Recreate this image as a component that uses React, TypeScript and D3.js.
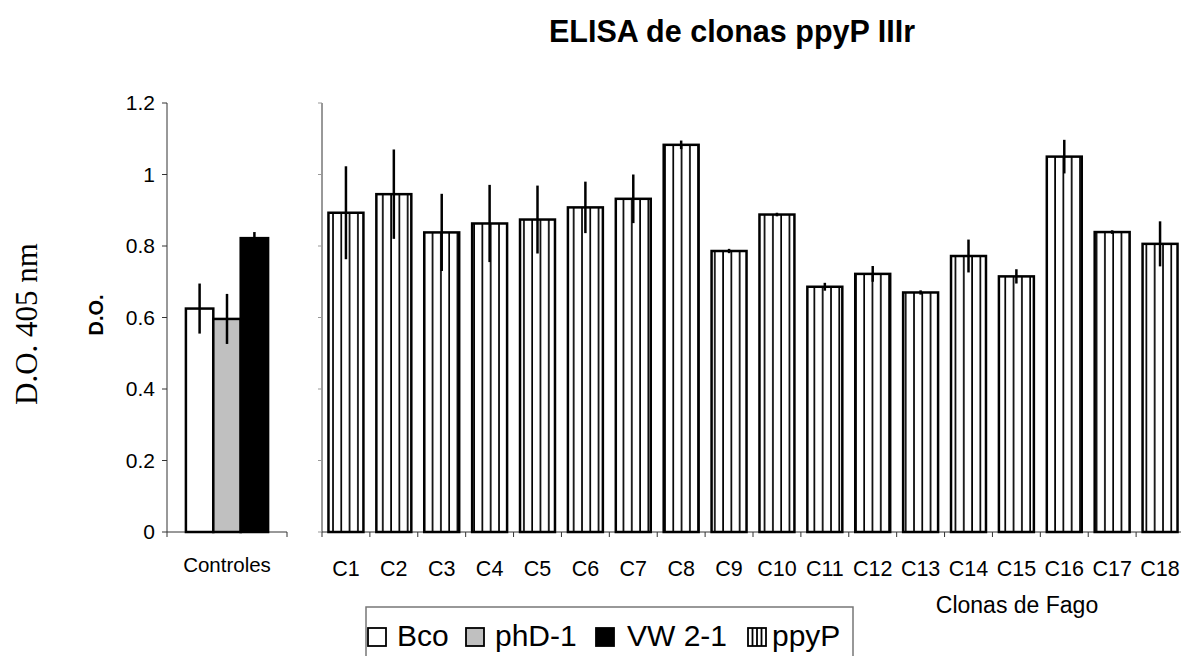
import React, { useRef, useEffect } from 'react';
import * as d3 from 'd3';

const clones = ['C1', 'C2', 'C3', 'C4', 'C5', 'C6', 'C7', 'C8', 'C9', 'C10', 'C11', 'C12', 'C13', 'C14', 'C15', 'C16', 'C17', 'C18'];
const cloneMeans = [0.893, 0.945, 0.838, 0.863, 0.874, 0.908, 0.932, 1.083, 0.786, 0.888, 0.686, 0.722, 0.670, 0.772, 0.715, 1.050, 0.839, 0.806];
const cloneErrors = [0.13, 0.125, 0.108, 0.108, 0.095, 0.072, 0.068, 0.012, 0.006, 0.005, 0.011, 0.022, 0.006, 0.046, 0.02, 0.047, 0.005, 0.063];

const controls = ['Bco', 'phD-1', 'VW 2-1'];
const controlMeans = [0.625, 0.596, 0.822];
const controlErrors = [0.07, 0.07, 0.017];
const controlColors = ['#ffffff', '#c0c0c0', '#000000'];

const yTicks = [0, 0.2, 0.4, 0.6, 0.8, 1, 1.2];

const App = () => {
  const svgRef = useRef(null);
  const width = 1181;
  const height = 656;

  useEffect(() => {
    const svg = d3.select(svgRef.current);
    svg.selectAll('*').remove();
    const font = 'Liberation Sans, Arial, sans-serif';

    // stripes for the clone bars
    const defs = svg.append('defs');
    const pat = defs.append('pattern')
      .attr('id', 'vstripe')
      .attr('patternUnits', 'userSpaceOnUse')
      .attr('width', 8.3)
      .attr('height', 10);
    pat.append('rect').attr('width', 8.3).attr('height', 10).attr('fill', '#fff');
    pat.append('line')
      .attr('x1', 1).attr('x2', 1).attr('y1', 0).attr('y2', 10)
      .attr('stroke', '#000').attr('stroke-width', 1.7);

    const y = d3.scaleLinear().domain([0, 1.2]).range([532, 103]);

    // ---- controls panel ----
    const xc = d3.scaleBand().domain(['Controles']).range([167, 287]).paddingOuter(0.23);
    const xcInner = d3.scaleBand().domain(controls).range([0, xc.bandwidth()]);

    svg.append('line')
      .attr('x1', 167).attr('x2', 167).attr('y1', y(1.2)).attr('y2', y(0))
      .attr('stroke', '#333');
    svg.append('line')
      .attr('x1', 167).attr('x2', 287).attr('y1', y(0)).attr('y2', y(0))
      .attr('stroke', '#333');
    [167, 287].forEach(t => {
      svg.append('line').attr('x1', t).attr('x2', t).attr('y1', y(0)).attr('y2', y(0) + 5).attr('stroke', '#333');
    });

    svg.selectAll('.ytick')
      .data(yTicks)
      .enter()
      .append('line')
      .attr('x1', 162).attr('x2', 167)
      .attr('y1', d => y(d)).attr('y2', d => y(d))
      .attr('stroke', '#333');

    svg.selectAll('.ylab')
      .data(yTicks)
      .enter()
      .append('text')
      .attr('x', 155)
      .attr('y', d => y(d) + 7)
      .attr('text-anchor', 'end')
      .attr('font-family', font)
      .attr('font-size', 21)
      .text(d => String(d));

    const cx0 = xc('Controles');
    svg.selectAll('.cbar')
      .data(controls)
      .enter()
      .append('rect')
      .attr('x', d => cx0 + xcInner(d))
      .attr('y', (d, i) => y(controlMeans[i]))
      .attr('width', xcInner.bandwidth())
      .attr('height', (d, i) => y(0) - y(controlMeans[i]))
      .attr('fill', (d, i) => controlColors[i])
      .attr('stroke', '#000')
      .attr('stroke-width', 2.5);

    svg.selectAll('.cerr')
      .data(controls)
      .enter()
      .append('line')
      .attr('x1', d => cx0 + xcInner(d) + xcInner.bandwidth() / 2)
      .attr('x2', d => cx0 + xcInner(d) + xcInner.bandwidth() / 2)
      .attr('y1', (d, i) => y(controlMeans[i] + controlErrors[i]))
      .attr('y2', (d, i) => y(controlMeans[i] - controlErrors[i]))
      .attr('stroke', '#000')
      .attr('stroke-width', 2.5);

    svg.append('text')
      .attr('x', xc('Controles') + xc.bandwidth() / 2)
      .attr('y', 572)
      .attr('text-anchor', 'middle')
      .attr('font-family', font)
      .attr('font-size', 20.5)
      .text('Controles');

    // ---- clones panel ----
    const x = d3.scaleBand()
      .domain(clones)
      .range([322, 1184])
      .paddingInner(0.27)
      .paddingOuter(0.135);
    const step = x.step();

    svg.append('line')
      .attr('x1', 322).attr('x2', 322).attr('y1', y(1.2)).attr('y2', y(0))
      .attr('stroke', '#333');
    svg.append('line')
      .attr('x1', 322).attr('x2', 1184).attr('y1', y(0)).attr('y2', y(0))
      .attr('stroke', '#333');
    svg.selectAll('.ytick2')
      .data(yTicks)
      .enter()
      .append('line')
      .attr('x1', 318).attr('x2', 322)
      .attr('y1', d => y(d)).attr('y2', d => y(d))
      .attr('stroke', '#999');
    svg.selectAll('.xtick')
      .data(d3.range(clones.length + 1))
      .enter()
      .append('line')
      .attr('x1', i => 322 + i * step).attr('x2', i => 322 + i * step)
      .attr('y1', y(0)).attr('y2', y(0) + 5)
      .attr('stroke', '#333');

    svg.selectAll('.bar')
      .data(cloneMeans)
      .enter()
      .append('rect')
      .attr('x', (d, i) => x(clones[i]))
      .attr('y', d => y(d))
      .attr('width', x.bandwidth())
      .attr('height', d => y(0) - y(d))
      .attr('fill', 'url(#vstripe)')
      .attr('stroke', '#000')
      .attr('stroke-width', 2.5);

    svg.selectAll('.err')
      .data(cloneMeans)
      .enter()
      .append('line')
      .attr('x1', (d, i) => x(clones[i]) + x.bandwidth() / 2)
      .attr('x2', (d, i) => x(clones[i]) + x.bandwidth() / 2)
      .attr('y1', (d, i) => y(d + cloneErrors[i]))
      .attr('y2', (d, i) => y(d - cloneErrors[i]))
      .attr('stroke', '#000')
      .attr('stroke-width', 2.5);

    svg.selectAll('.xlab')
      .data(clones)
      .enter()
      .append('text')
      .attr('x', d => x(d) + x.bandwidth() / 2)
      .attr('y', 576)
      .attr('text-anchor', 'middle')
      .attr('font-family', font)
      .attr('font-size', 21.5)
      .text(d => d);

    // titles
    svg.append('text')
      .attr('x', 732).attr('y', 42)
      .attr('text-anchor', 'middle')
      .attr('font-family', font)
      .attr('font-weight', 'bold')
      .attr('font-size', 30.5)
      .text('ELISA de clonas ppyP IIIr');

    svg.append('text')
      .attr('x', 1017).attr('y', 613)
      .attr('text-anchor', 'middle')
      .attr('font-family', font)
      .attr('font-size', 23)
      .text('Clonas de Fago');

    svg.append('text')
      .attr('transform', 'translate(37,324) rotate(-90)')
      .attr('text-anchor', 'middle')
      .attr('font-family', 'Liberation Serif, Times New Roman, serif')
      .attr('font-size', 31)
      .text('D.O. 405 nm');

    svg.append('text')
      .attr('transform', 'translate(103,315) rotate(-90)')
      .attr('text-anchor', 'middle')
      .attr('font-family', font)
      .attr('font-weight', 'bold')
      .attr('font-size', 20)
      .text('D.O.');

    // legend
    const lg = svg.append('g');
    lg.append('path')
      .attr('d', 'M366,660 V607 H853 V660')
      .attr('fill', 'none')
      .attr('stroke', '#777')
      .attr('stroke-width', 1.5);

    const legendItems = [
      { name: controls[0], sx: 368, tx: 397, kind: 'fill', color: controlColors[0] },
      { name: controls[1], sx: 466, tx: 495, kind: 'fill', color: controlColors[1] },
      { name: controls[2], sx: 596, tx: 627, kind: 'fill', color: controlColors[2] },
      { name: 'ppyP', sx: 748, tx: 772, kind: 'stripe', color: '#fff' },
    ];
    legendItems.forEach(it => {
      lg.append('rect')
        .attr('x', it.sx).attr('y', 628)
        .attr('width', 18).attr('height', 18)
        .attr('fill', it.color)
        .attr('stroke', '#000')
        .attr('stroke-width', 1.8);
      if (it.kind === 'stripe') {
        [4.5, 9, 13.5].forEach(o => {
          lg.append('line')
            .attr('x1', it.sx + o).attr('x2', it.sx + o)
            .attr('y1', 628).attr('y2', 646)
            .attr('stroke', '#000').attr('stroke-width', 1.8);
        });
      }
      lg.append('text')
        .attr('x', it.tx).attr('y', 646)
        .attr('font-family', font)
        .attr('font-size', 30)
        .text(it.name);
    });
  }, []);

  return (
    <svg
      ref={svgRef}
      width={width}
      height={height}
      style={{ position: 'absolute', left: 0, top: 0, background: '#fff' }}
    ></svg>
  );
};

export default App;
